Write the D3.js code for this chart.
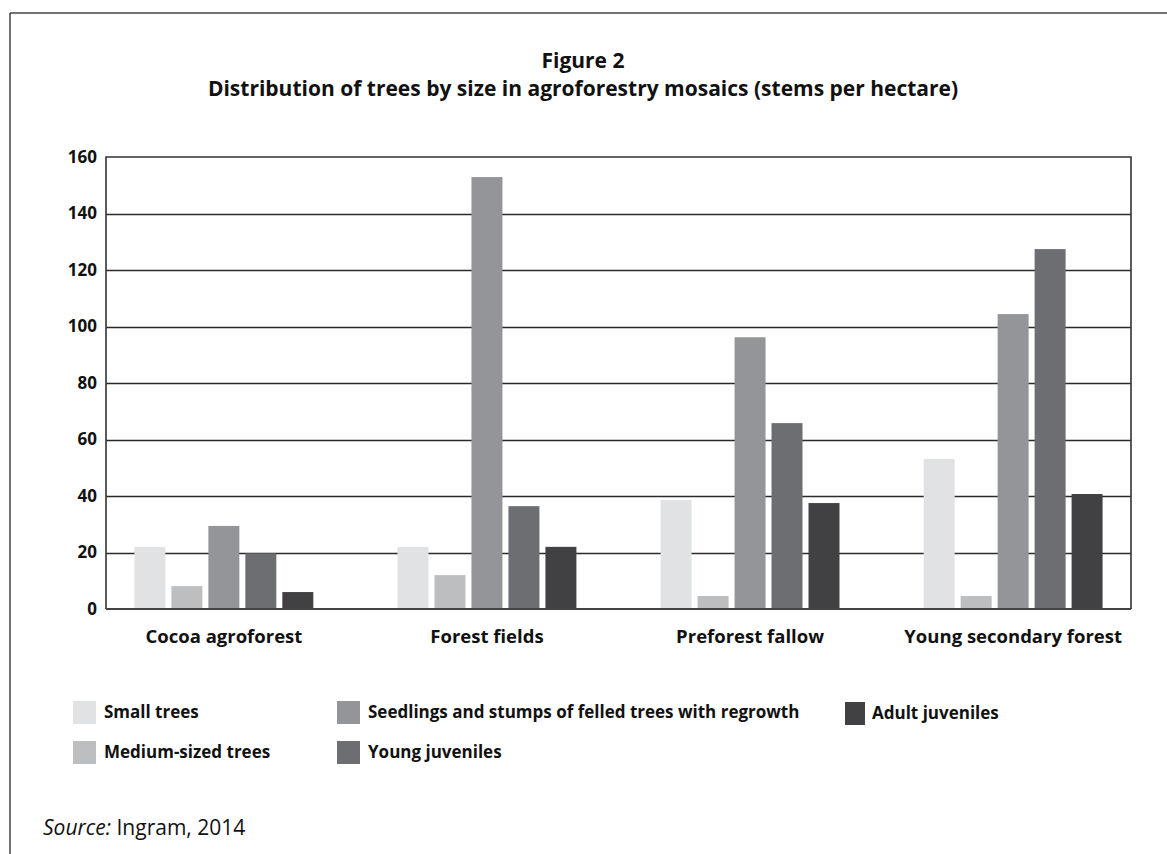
<!DOCTYPE html>
<html>
<head>
<meta charset="utf-8">
<script src="https://cdn.jsdelivr.net/npm/d3@7/dist/d3.min.js"></script>
<style>
  html, body { margin: 0; padding: 0; background: #fff; }
  svg { display: block; }
  text { font-family: "Open Sans", "Noto Sans", sans-serif; fill: #111; }
</style>
</head>
<body>
<svg id="chart" width="1167" height="854"></svg>
<script>
// Land-use types along the x axis
const categories = ["Cocoa agroforest", "Forest fields", "Preforest fallow", "Young secondary forest"];

// Tree size classes (stems per hectare), one value per land-use type
const seriesNames = [
  "Small trees",
  "Medium-sized trees",
  "Seedlings and stumps of felled trees with regrowth",
  "Young juveniles",
  "Adult juveniles"
];
const smallTrees      = [22, 22, 38.6, 53.1];
const mediumTrees     = [8.1, 12, 4.6, 4.6];
const seedlingsStumps = [29.4, 152.9, 96.2, 104.4];
const youngJuveniles  = [19.7, 36.4, 65.8, 127.4];
const adultJuveniles  = [6, 22, 37.5, 40.7];

const seriesValues = [smallTrees, mediumTrees, seedlingsStumps, youngJuveniles, adultJuveniles];
const seriesColors = ["#e1e2e4", "#bdbec0", "#949598", "#6d6e72", "#414143"];

const yTicks = [0, 20, 40, 60, 80, 100, 120, 140, 160];

const FONT = '"Open Sans", "Noto Sans", sans-serif';
const svg = d3.select("#chart");

// Outer frame: top rule and left rule
svg.append("line").attr("x1", 10).attr("x2", 1167).attr("y1", 13).attr("y2", 13)
  .attr("stroke", "#444").attr("stroke-width", 1.5);
svg.append("line").attr("x1", 10).attr("x2", 10).attr("y1", 13).attr("y2", 854)
  .attr("stroke", "#444").attr("stroke-width", 1.5);

// Title
svg.append("text").attr("x", 583).attr("y", 68).attr("text-anchor", "middle")
  .attr("font-weight", 700).attr("font-size", 21).text("Figure 2");
svg.append("text").attr("x", 583).attr("y", 96).attr("text-anchor", "middle")
  .attr("font-weight", 700).attr("font-size", 21)
  .text("Distribution of trees by size in agroforestry mosaics (stems per hectare)");

// Plot area
const plotLeft = 106, plotRight = 1131, plotTop = 157, plotBottom = 609;

const x0 = d3.scaleBand().domain(categories).range([plotLeft, plotRight])
  .paddingInner(0.32).paddingOuter(0.108);
const x1 = d3.scaleBand().domain(d3.range(seriesNames.length)).range([0, x0.bandwidth()])
  .paddingInner(0.162).paddingOuter(0);
const y = d3.scaleLinear().domain([0, 160]).range([plotBottom, plotTop]);

// Horizontal gridlines
svg.append("g").selectAll("line").data(yTicks.filter(d => d > 0 && d < 160)).join("line")
  .attr("x1", plotLeft).attr("x2", plotRight)
  .attr("y1", d => Math.round(y(d)) + 0.5).attr("y2", d => Math.round(y(d)) + 0.5)
  .attr("stroke", "#2a2a2a").attr("stroke-width", 1.3);

// Bars
const groups = svg.append("g").selectAll("g").data(categories).join("g")
  .attr("transform", d => `translate(${x0(d)},0)`);
groups.selectAll("rect")
  .data((c, ci) => seriesValues.map((vals, si) => ({ si, v: vals[ci] })))
  .join("rect")
  .attr("x", d => x1(d.si))
  .attr("width", x1.bandwidth())
  .attr("y", d => y(d.v))
  .attr("height", d => y(0) - y(d.v))
  .attr("fill", d => seriesColors[d.si]);

// Plot frame (top, left, right) and zero baseline
svg.append("path")
  .attr("d", `M${plotLeft},${plotBottom} V${plotTop} H${plotRight} V${plotBottom}`)
  .attr("fill", "none").attr("stroke", "#333").attr("stroke-width", 1.6);
svg.append("line").attr("x1", plotLeft).attr("x2", plotRight).attr("y1", y(0)).attr("y2", y(0))
  .attr("stroke", "#444").attr("stroke-width", 2.2);

// Y axis tick labels
const yAxis = d3.axisLeft(y).tickValues(yTicks).tickSize(0).tickPadding(9);
const yg = svg.append("g").attr("transform", `translate(${plotLeft},0)`).call(yAxis);
yg.select(".domain").remove();
yg.selectAll("text").attr("font-size", 17).attr("font-weight", 700)
  .attr("fill", "#111").style("font-family", FONT);

// Category labels
const xAxis = d3.axisBottom(x0).tickSize(0).tickPadding(21);
const xg = svg.append("g").attr("transform", `translate(0,${plotBottom})`).call(xAxis);
xg.select(".domain").remove();
xg.selectAll("text").attr("font-size", 18.5).attr("font-weight", 700)
  .attr("fill", "#111").style("font-family", FONT);

// Legend
const legendPos = [
  { x: 73, y: 701 },
  { x: 73, y: 741 },
  { x: 337, y: 701 },
  { x: 337, y: 741 },
  { x: 845, y: 702 }
];
const legend = svg.append("g").selectAll("g").data(seriesNames).join("g")
  .attr("transform", (d, i) => `translate(${legendPos[i].x},${legendPos[i].y})`);
legend.append("rect").attr("width", (d, i) => i === 4 ? 20 : 23).attr("height", 23)
  .attr("fill", (d, i) => seriesColors[i]);
legend.append("text").attr("x", (d, i) => i === 4 ? 27 : 31).attr("y", 17)
  .attr("font-size", 17).attr("font-weight", 700).text(d => d);

// Source note
const src = svg.append("text").attr("x", 43).attr("y", 835).attr("font-size", 21);
src.append("tspan").attr("font-style", "italic").text("Source:");
src.append("tspan").text(" Ingram, 2014");
</script>
</body>
</html>
